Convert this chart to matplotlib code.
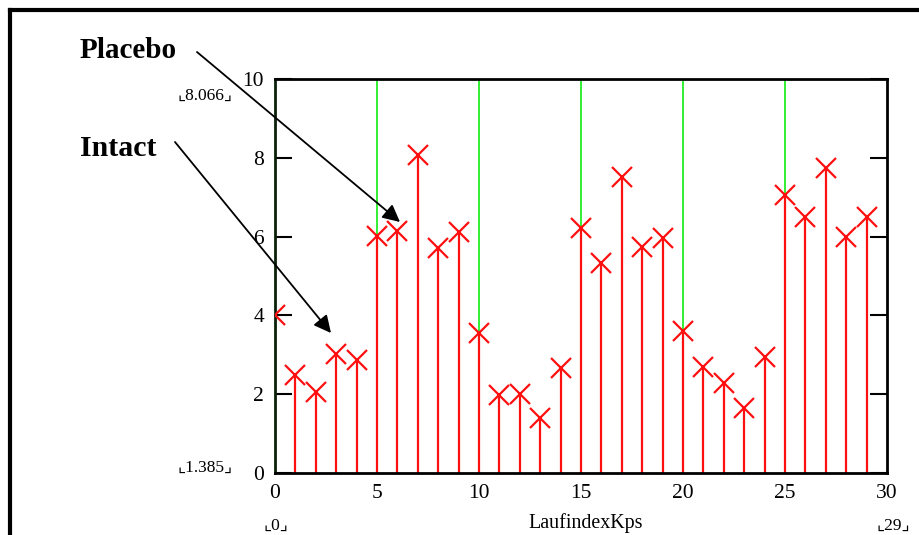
import matplotlib
matplotlib.use("Agg")
import matplotlib.pyplot as plt
from matplotlib.lines import Line2D

# Measurements per run index
index = list(range(30))
values = [4.00, 2.49, 2.06, 3.01, 2.87, 6.01, 6.15, 8.066, 5.70, 6.12,
          3.55, 1.98, 2.00, 1.385, 2.66, 6.21, 5.32, 7.52, 5.74, 5.97,
          3.60, 2.70, 2.29, 1.64, 2.95, 7.06, 6.51, 7.73, 6.00, 6.51]
group_marks = [5, 10, 15, 20, 25]
x_ticks = [0, 5, 10, 15, 20, 25, 30]
y_ticks = [0, 2, 4, 6, 8, 10]

serif = ["Liberation Serif", "DejaVu Serif"]
bracket_font = ["Liberation Serif", "DejaVu Sans"]

fig = plt.figure(figsize=(9.19, 5.35), dpi=100)
W, H = 919, 535

def fx(px):
    return px / W

def fy(py):
    return 1 - py / H

ax = fig.add_axes([fx(275), fy(473), fx(887) - fx(275), fy(79) - fy(473)])
ax.set_xlim(0, 30)
ax.set_ylim(0, 10)

# group separators
for g in group_marks:
    ax.axvline(g, color="#22ee22", lw=1.3, zorder=1)

# stems and markers
ax.vlines(index, 0, values, color="#ff1010", lw=1.6, zorder=2)
ax.plot(index, values, linestyle="none", marker="x", markersize=14,
        markeredgewidth=1.6, color="#ff1010", zorder=3)

ax.set_xticks(x_ticks)
ax.set_yticks(y_ticks)
ax.tick_params(axis="x", length=0, pad=8, labelsize=15.5)
ax.tick_params(axis="y", direction="in", length=12, width=1.5, right=True,
               pad=8, labelsize=15.5)
for lab in ax.get_xticklabels() + ax.get_yticklabels():
    lab.set_fontfamily(serif)
for side in ["left", "right", "top", "bottom"]:
    ax.spines[side].set_linewidth(2)
    ax.spines[side].set_color("black")
ax.spines["left"].set_color("#0a200a")

# outer frame (top and left edges)
fig.add_artist(Line2D([fx(9.5), 1.0], [fy(9.5), fy(9.5)], transform=fig.transFigure,
                      color="black", lw=3))
fig.add_artist(Line2D([fx(9.5), fx(9.5)], [fy(9.5), 0.0], transform=fig.transFigure,
                      color="black", lw=3))

# range labels
fig.text(fx(205), fy(96), "\u231e8.066\u231f", ha="center", va="center",
         fontsize=12.5, family=bracket_font)
fig.text(fx(205), fy(468), "\u231e1.385\u231f", ha="center", va="center",
         fontsize=12.5, family=bracket_font)
fig.text(fx(276), fy(526), "\u231e0\u231f", ha="center", va="center",
         fontsize=12.5, family=bracket_font)
fig.text(fx(893), fy(526), "\u231e29\u231f", ha="center", va="center",
         fontsize=12.5, family=bracket_font)
fig.text(fx(586), fy(523), "LaufindexKps", ha="center", va="center",
         fontsize=14.4, family=serif)

# group annotations
fig.text(fx(80), fy(50), "Placebo", ha="left", va="center", fontsize=21,
         fontweight="bold", family=serif)
fig.text(fx(80), fy(148), "Intact", ha="left", va="center", fontsize=21.5,
         fontweight="bold", family=serif)
ax.annotate("", xy=(fx(400), fy(222)), xycoords="figure fraction",
            xytext=(fx(197), fy(52)), textcoords="figure fraction",
            arrowprops=dict(arrowstyle="-|>", color="black", lw=1.3,
                            mutation_scale=26, shrinkA=0, shrinkB=0),
            annotation_clip=False)
ax.annotate("", xy=(fx(331), fy(333)), xycoords="figure fraction",
            xytext=(fx(175), fy(142)), textcoords="figure fraction",
            arrowprops=dict(arrowstyle="-|>", color="black", lw=1.3,
                            mutation_scale=26, shrinkA=0, shrinkB=0),
            annotation_clip=False)

fig.savefig("out.png", dpi=100)
